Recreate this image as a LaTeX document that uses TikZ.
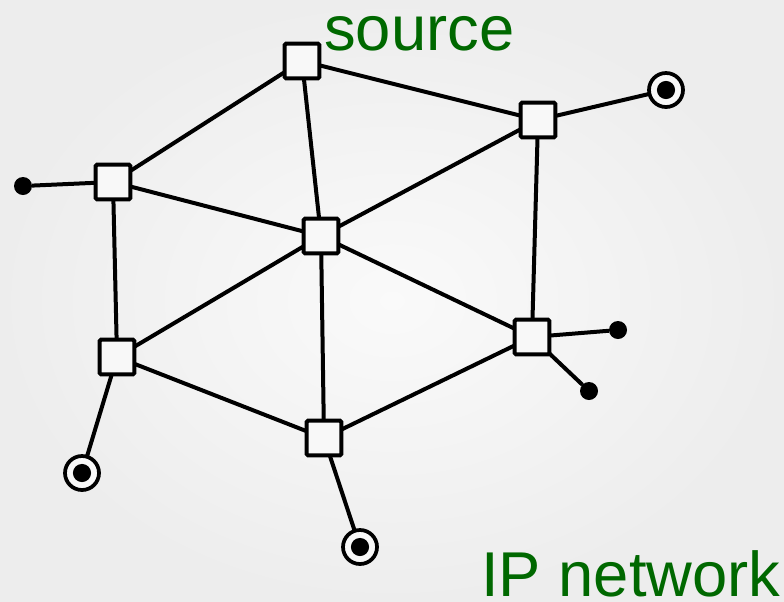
\documentclass[tikz,border=0pt]{standalone}
\usepackage{fontspec}
\setmainfont{Liberation Sans}
\definecolor{labelgreen}{RGB}{0,104,0}
\definecolor{boxfill}{RGB}{248,248,248}
\begin{document}
\begin{tikzpicture}[x=0.75pt,y=-0.75pt,
  router/.style={draw=black,line width=3pt,fill=boxfill,rounded corners=1pt,
    minimum size=26pt,inner sep=0pt,outer sep=0pt},
  host/.style={circle,fill=black,minimum size=13.5pt,inner sep=0pt,outer sep=0pt},
  receiver/.style={circle,draw=black,line width=2.8pt,fill=boxfill,
    minimum size=25.5pt,inner sep=0pt,outer sep=0pt,
    path picture={\fill[black] (path picture bounding box.center) circle (6.8pt);}},
  link/.style={line width=3pt,black},
  caption/.style={text=labelgreen,font=\fontsize{47.5}{50}\selectfont,inner sep=0pt}]
  % background
  \shade[inner color=white!98!black,outer color=white!93!black] (0,0) rectangle (784,601);
  \useasboundingbox (0,0) rectangle (784,601);

  % routers
  \node[router] (s)  at (302,61)  {};
  \node[router] (r1) at (538,120) {};
  \node[router] (l1) at (113,182) {};
  \node[router] (c)  at (321,236) {};
  \node[router] (r2) at (532,337) {};
  \node[router] (l2) at (117,357) {};
  \node[router] (b)  at (324,438) {};

  % hosts
  \node[host] (h1) at (23,186) {};
  \node[host] (h2) at (618,330) {};
  \node[host] (h3) at (589,391) {};
  \node[receiver] (t1) at (666,90) {};
  \node[receiver] (t2) at (82,473) {};
  \node[receiver] (t3) at (360,547) {};

  % links between routers
  \draw[link] (s) -- (l1);
  \draw[link] (s) -- (r1);
  \draw[link] (s) -- (c);
  \draw[link] (l1) -- (c);
  \draw[link] (l1) -- (l2);
  \draw[link] (r1) -- (c);
  \draw[link] (r1) -- (r2);
  \draw[link] (c) -- (l2);
  \draw[link] (c) -- (b);
  \draw[link] (c) -- (r2);
  \draw[link] (l2) -- (b);
  \draw[link] (b) -- (r2);
  % access links
  \draw[link] (h1) -- (l1);
  \draw[link] (r1) -- (t1);
  \draw[link] (r2) -- (h2);
  \draw[link] (r2) -- (h3);
  \draw[link] (l2) -- (t2);
  \draw[link] (b) -- (t3);

  % labels
  \node[caption,anchor=base west] (src) at (324,50) {source};
  \node[caption,anchor=base west] (net) at (481,596) {IP network};
\end{tikzpicture}
\end{document}
